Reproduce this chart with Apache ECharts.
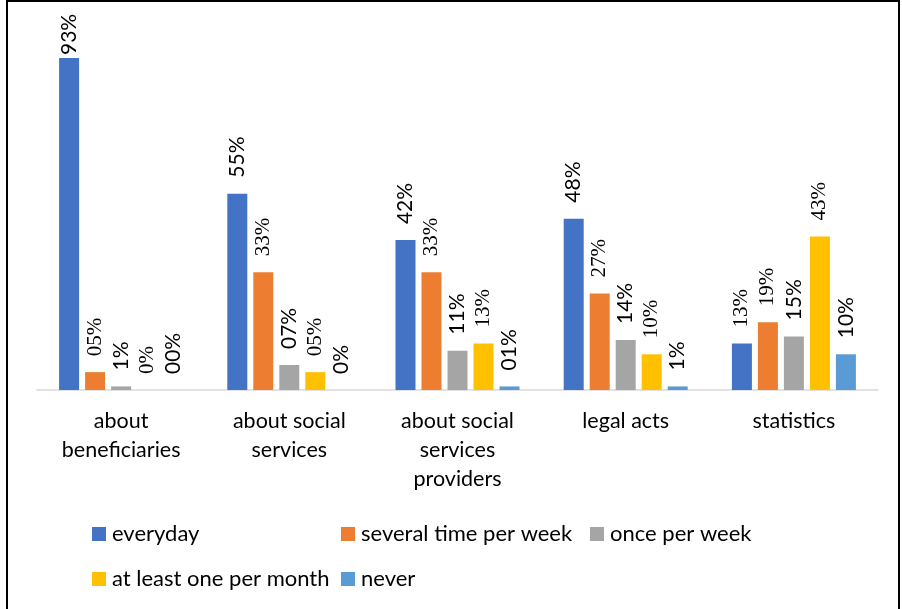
<!DOCTYPE html>
<html>
<head>
<meta charset="utf-8">
<script src="https://cdn.jsdelivr.net/npm/echarts@6/dist/echarts.min.js"></script>
<style>
  html, body { margin: 0; padding: 0; background: #fff; }
  #chart { width: 902px; height: 609px; }
</style>
</head>
<body>
<div id="chart"></div>
<script>
// Information types (x axis)
const categories = ['about\nbeneficiaries', 'about social\nservices', 'about social\nservices\nproviders', 'legal acts', 'statistics'];

// Frequency of use, percent
const seriesNames = ['everyday', 'several time per week', 'once per week', 'at least one per month', 'never'];
const everyday   = [93, 55, 42, 48, 13];
const severalWk  = [5, 33, 33, 27, 19];
const oncePerWk  = [1, 7, 11, 14, 15];
const oncePerMo  = [0, 5, 13, 10, 43];
const never      = [0, 0, 1, 1, 10];

// Value labels as printed above each bar
const everydayText  = ['93%', '55%', '42%', '48%', '13%'];
const severalWkText = ['05%', '33%', '33%', '27%', '19%'];
const oncePerWkText = ['1%', '07%', '11%', '14%', '15%'];
const oncePerMoText = ['0%', '05%', '13%', '10%', '43%'];
const neverText     = ['00%', '0%', '01%', '1%', '10%'];

const colors = ['#4472C4', '#ED7D31', '#A5A5A5', '#FFC000', '#5B9BD5'];
const SANS = 'Lato, "Noto Sans", sans-serif';
const SERIF = '"Liberation Serif", serif';

// Which labels use the serif face (per series, per category)
const serifFlags = [
  [false, false, false, false, true],
  [true, true, true, true, true],
  [false, false, false, false, false],
  [true, true, true, true, true],
  [false, false, false, false, false]
];

const values = [everyday, severalWk, oncePerWk, oncePerMo, never];
const texts = [everydayText, severalWkText, oncePerWkText, oncePerMoText, neverText];

function buildData(si) {
  return values[si].map((v, i) => {
    const serif = serifFlags[si][i];
    const item = {
      value: v,
      label: {
        formatter: texts[si][i],
        fontFamily: serif ? SERIF : SANS,
        fontSize: serif ? 21 : 21
      }
    };
    if (v > 85) item.label.distance = 3;
    return item;
  });
}

const series = seriesNames.map((name, si) => ({
  name: name,
  type: 'bar',
  barWidth: 20,
  barGap: '30%',
  itemStyle: { color: colors[si] },
  label: {
    show: true,
    position: 'top',
    rotate: 90,
    align: 'left',
    verticalAlign: 'middle',
    distance: 16,
    color: '#000'
  },
  data: buildData(si)
}));

// Legend placement: two rows, three columns
const legendPos = [
  { left: 92, top: 523 },
  { left: 341, top: 523 },
  { left: 590, top: 523 },
  { left: 92, top: 568 },
  { left: 341, top: 568 }
];
const legends = seriesNames.map((name, si) => ({
  data: [name],
  left: legendPos[si].left,
  top: legendPos[si].top,
  padding: 0,
  icon: 'rect',
  itemWidth: 14,
  itemHeight: 14,
  selectedMode: false,
  textStyle: { fontFamily: SANS, fontSize: 22, color: '#000', lineHeight: 22, padding: [0, 0, 0, 1] }
}));

const chart = echarts.init(document.getElementById('chart'), null, { renderer: 'canvas' });
chart.setOption({
  animation: false,
  color: colors,
  grid: { left: 37, right: 24, top: 33, bottom: 219, containLabel: false },
  xAxis: {
    type: 'category',
    data: categories,
    axisLine: { lineStyle: { color: '#D9D9D9', width: 1.5 } },
    axisTick: { show: false },
    axisLabel: {
      interval: 0,
      margin: 17,
      fontFamily: SANS,
      fontSize: 21.5,
      lineHeight: 29,
      color: '#000'
    }
  },
  yAxis: {
    type: 'value',
    min: 0,
    max: 100,
    show: false,
    splitLine: { show: false }
  },
  legend: legends,
  series: series,
  graphic: [{
    type: 'rect',
    shape: { x: 7, y: 1, width: 892, height: 640 },
    style: { fill: 'none', stroke: '#000', lineWidth: 2 },
    silent: true
  }]
});
</script>
</body>
</html>
